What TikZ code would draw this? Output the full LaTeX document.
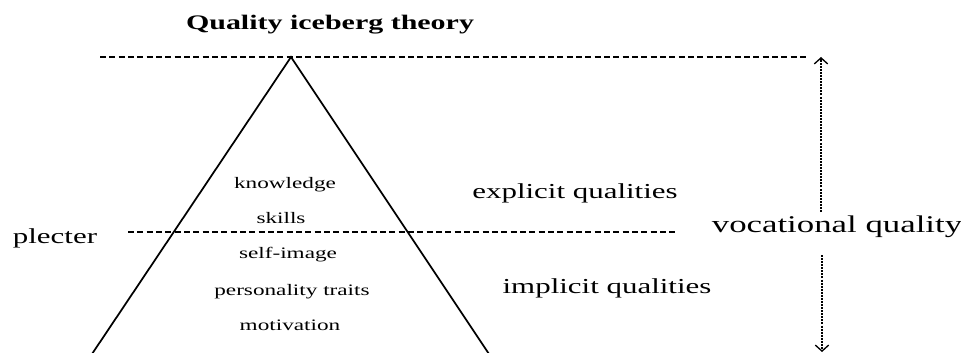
\documentclass[tikz,border=0pt]{standalone}
\usepackage{fontspec}
\setmainfont{Liberation Serif}
\usetikzlibrary{arrows.meta}

\tikzset{
  lbl/.style={inner sep=0.75pt, xscale=1.45},
  inner/.style={lbl, font=\fontsize{12}{14}\selectfont},
  side/.style={lbl, font=\fontsize{16}{19}\selectfont},
  waterline/.style={dash pattern=on 4.5pt off 2.5pt, line width=0.85pt},
  vqarrow/.style={dash pattern=on 1.5pt off 0.8pt, line width=1.6pt, -{Straight Barb[length=4.5pt,width=10pt,line width=1pt]}}
}

\begin{document}
\begin{tikzpicture}[x=0.75pt,y=0.75pt,yscale=-1,xscale=1]
\useasboundingbox (0,0) rectangle (961,353);

%Coordinates
\coordinate (apex) at (291,57);
\coordinate (baseL) at (92,354);
\coordinate (baseR) at (489,354);
\coordinate (topL) at (100,57);
\coordinate (topR) at (808,57);
\coordinate (waterL) at (128,232);
\coordinate (waterR) at (677,232);
\coordinate (upS) at (821,212);
\coordinate (upE) at (821,57);
\coordinate (dnS) at (822,255);
\coordinate (dnE) at (822,352);

%Straight Lines
\draw [waterline] (topL) -- (topR) ;
%Straight Lines
\draw [waterline] (waterL) -- (waterR) ;
%Iceberg
\draw [line width=1.3pt, line join=miter] (baseL) -- (apex) -- (baseR) ;
%Arrows
\draw [vqarrow] (upS) -- (upE) ;
\draw [vqarrow] (dnS) -- (dnE) ;

% Text Node
\node [lbl, font=\bfseries\fontsize{15.5}{18}\selectfont] (title) at (330,25) {Quality iceberg theory};
% Text Node
\node [inner] (knowledge) at (285,185) {knowledge};
% Text Node
\node [inner] (skills) at (281,218) {skills};
% Text Node
\node [inner] (selfimage) at (288,255) {self-image};
% Text Node
\node [inner] (traits) at (292,292) {personality traits};
% Text Node
\node [inner] (motivation) at (290,325) {motivation};
% Text Node
\node [side] (plecter) at (55,238) {plecter};
% Text Node
\node [side] (explicit) at (575,193) {explicit qualities};
% Text Node
\node [side] (implicit) at (607,288) {implicit qualities};
% Text Node
\node [lbl, font=\fontsize{18}{21}\selectfont] (vocational) at (837,227) {vocational quality};

\end{tikzpicture}
\end{document}
